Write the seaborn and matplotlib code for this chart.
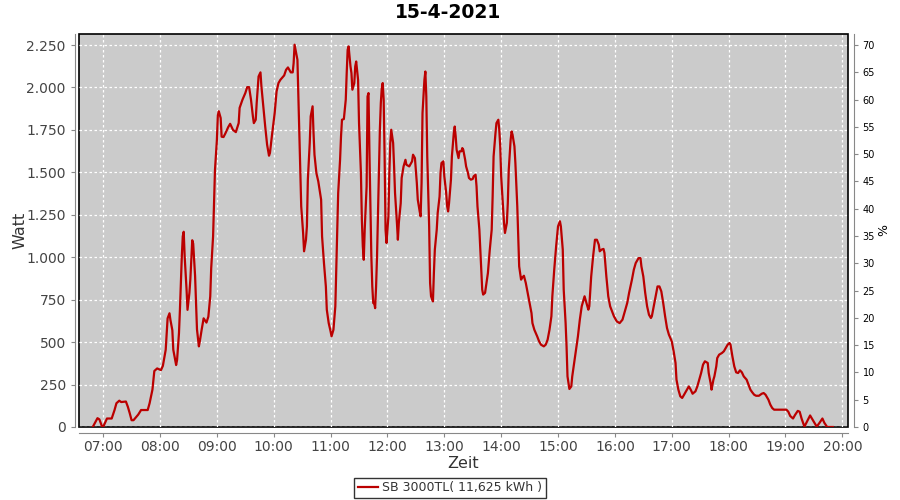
import pandas as pd
import matplotlib
matplotlib.use('Agg')
import matplotlib.pyplot as plt
import matplotlib.dates as mdates
from matplotlib.ticker import FuncFormatter, MultipleLocator
import seaborn as sns

zeiten = [
    "06:49", "06:54", "06:56", "06:59", "07:00", "07:04", "07:09", "07:12", "07:14", "07:17",
    "07:19", "07:24", "07:26", "07:28", "07:30", "07:32", "07:37", "07:40", "07:47", "07:49",
    "07:52", "07:54", "07:57", "08:01", "08:03", "08:06", "08:08", "08:10", "08:11", "08:13",
    "08:14", "08:16", "08:17", "08:18", "08:20", "08:21", "08:22", "08:23", "08:24", "08:25",
    "08:26", "08:28", "08:29", "08:31", "08:32", "08:34", "08:35", "08:37", "08:38", "08:39",
    "08:41", "08:42", "08:44", "08:46", "08:49", "08:51", "08:53", "08:54", "08:56", "08:57",
    "08:58", "09:00", "09:01", "09:02", "09:04", "09:05", "09:07", "09:09", "09:12", "09:14",
    "09:17", "09:20", "09:23", "09:24", "09:27", "09:30", "09:32", "09:34", "09:36", "09:38",
    "09:39", "09:41", "09:42", "09:44", "09:46", "09:47", "09:49", "09:51", "09:53", "09:55",
    "09:56", "09:58", "10:01", "10:03", "10:05", "10:07", "10:11", "10:13", "10:15", "10:18",
    "10:20", "10:21", "10:22", "10:23", "10:25", "10:26", "10:27", "10:28", "10:29", "10:31",
    "10:32", "10:34", "10:35", "10:36", "10:38", "10:39", "10:41", "10:42", "10:43", "10:45",
    "10:47", "10:50", "10:51", "10:53", "10:55", "10:56", "10:58", "11:00", "11:01", "11:03",
    "11:05", "11:06", "11:07", "11:08", "11:10", "11:11", "11:12", "11:14", "11:16", "11:17",
    "11:18", "11:19", "11:21", "11:22", "11:23", "11:25", "11:26", "11:27", "11:29", "11:30",
    "11:32", "11:33", "11:34", "11:35", "11:36", "11:38", "11:39", "11:40", "11:41", "11:42",
    "11:43", "11:44", "11:45", "11:46", "11:47", "11:48", "11:49", "11:51", "11:52", "11:53",
    "11:54", "11:55", "11:56", "11:57", "11:58", "11:59", "12:01", "12:02", "12:03", "12:04",
    "12:06", "12:07", "12:08", "12:10", "12:11", "12:12", "12:14", "12:15", "12:17", "12:19",
    "12:20", "12:23", "12:26", "12:27", "12:29", "12:31", "12:32", "12:34", "12:35", "12:36",
    "12:37", "12:39", "12:40", "12:41", "12:42", "12:44", "12:45", "12:46", "12:48", "12:49",
    "12:50", "12:52", "12:53", "12:55", "12:56", "12:57", "12:59", "13:00", "13:02", "13:03",
    "13:04", "13:05", "13:07", "13:08", "13:10", "13:11", "13:12", "13:13", "13:15", "13:16",
    "13:18", "13:19", "13:20", "13:22", "13:23", "13:25", "13:26", "13:28", "13:30", "13:31",
    "13:33", "13:34", "13:35", "13:37", "13:38", "13:39", "13:40", "13:41", "13:43", "13:44",
    "13:46", "13:48", "13:50", "13:51", "13:52", "13:54", "13:55", "13:57", "13:58", "13:59",
    "14:00", "14:02", "14:03", "14:04", "14:06", "14:07", "14:08", "14:10", "14:11", "14:12",
    "14:14", "14:15", "14:17", "14:18", "14:19", "14:21", "14:22", "14:24", "14:26", "14:28",
    "14:30", "14:32", "14:33", "14:35", "14:38", "14:40", "14:42", "14:45", "14:47", "14:49",
    "14:51", "14:53", "14:54", "14:56", "14:58", "15:00", "15:02", "15:03", "15:05", "15:06",
    "15:08", "15:09", "15:10", "15:12", "15:14", "15:15", "15:17", "15:19", "15:21", "15:23",
    "15:25", "15:27", "15:28", "15:30", "15:32", "15:33", "15:35", "15:37", "15:39", "15:41",
    "15:43", "15:44", "15:46", "15:48", "15:49", "15:51", "15:53", "15:55", "15:57", "15:59",
    "16:02", "16:05", "16:08", "16:10", "16:13", "16:15", "16:18", "16:20", "16:22", "16:25",
    "16:27", "16:28", "16:30", "16:32", "16:34", "16:36", "16:38", "16:39", "16:41", "16:43",
    "16:45", "16:47", "16:49", "16:51", "16:53", "16:55", "16:57", "17:00", "17:02", "17:04",
    "17:05", "17:07", "17:09", "17:11", "17:13", "17:16", "17:18", "17:20", "17:22", "17:25",
    "17:27", "17:29", "17:31", "17:33", "17:35", "17:38", "17:39", "17:41", "17:42", "17:44",
    "17:45", "17:47", "17:48", "17:50", "17:53", "17:55", "17:57", "17:59", "18:01", "18:02",
    "18:04", "18:06", "18:08", "18:10", "18:12", "18:14", "18:16", "18:19", "18:21", "18:23",
    "18:25", "18:27", "18:29", "18:32", "18:35", "18:37", "18:39", "18:42", "18:44", "18:46",
    "18:48", "18:55", "19:01", "19:03", "19:05", "19:08", "19:10", "19:13", "19:15", "19:17",
    "19:20", "19:23", "19:26", "19:29", "19:33", "19:36", "19:39", "19:41", "19:44", "19:50",
]
watt = [
    0, 52, 45, 0, 0, 50, 50, 100, 140, 155,
    147, 150, 120, 82, 40, 40, 73, 100, 100, 140,
    220, 330, 345, 335, 360, 455, 640, 670, 630, 570,
    455, 395, 365, 395, 553, 690, 850, 1005, 1123, 1150,
    1005, 810, 690, 790, 870, 1100, 1080, 890, 730, 575,
    475, 505, 575, 640, 615, 650, 770, 935, 1123, 1320,
    1515, 1690, 1835, 1860, 1820, 1710, 1708, 1730, 1767, 1786,
    1750, 1737, 1790, 1880, 1928, 1967, 2002, 2002, 1928, 1830,
    1790, 1810, 1908, 2065, 2089, 2006, 1888, 1770, 1663, 1598,
    1614, 1712, 1850, 1977, 2026, 2045, 2071, 2104, 2118, 2089,
    2089, 2144, 2252, 2223, 2163, 1947, 1731, 1515, 1300, 1143,
    1035, 1103, 1182, 1457, 1673, 1830, 1889, 1731, 1604, 1496,
    1447, 1339, 1123, 966, 828, 691, 612, 563, 534, 573,
    711, 927, 1162, 1378, 1574, 1712, 1810, 1814, 1928, 2085,
    2222, 2242, 2124, 2085, 1987, 2026, 2124, 2153, 2045, 1790,
    1496, 1221, 1064, 985, 1162, 1417, 1947, 1967, 1614, 1319,
    1005, 828, 730, 730, 700, 828, 1005, 1496, 1751, 1908,
    1996, 2026, 1928, 1594, 1162, 1084, 1241, 1496, 1673, 1751,
    1673, 1535, 1378, 1202, 1103, 1202, 1319, 1467, 1535, 1574,
    1545, 1535, 1565, 1604, 1584, 1437, 1339, 1270, 1241, 1437,
    1849, 2045, 2094, 1947, 1594, 1182, 848, 770, 740, 907,
    1045, 1162, 1260, 1358, 1496, 1555, 1565, 1477, 1378, 1300,
    1270, 1319, 1457, 1594, 1731, 1770, 1712, 1633, 1584, 1624,
    1624, 1643, 1633, 1574, 1535, 1496, 1467, 1457, 1461, 1477,
    1486, 1418, 1300, 1162, 1045, 927, 809, 780, 790, 828,
    907, 1045, 1162, 1358, 1594, 1731, 1790, 1810, 1751, 1653,
    1477, 1300, 1202, 1143, 1202, 1319, 1515, 1692, 1741, 1722,
    1653, 1555, 1300, 1123, 946, 868, 878, 891, 848, 790,
    730, 671, 612, 573, 534, 505, 485, 475, 485, 514,
    573, 652, 770, 927, 1064, 1182, 1212, 1182, 1045, 809,
    612, 475, 298, 224, 239, 298, 377, 455, 534, 632,
    711, 750, 770, 730, 691, 711, 887, 1005, 1103, 1103,
    1074, 1035, 1045, 1049, 1025, 887, 770, 711, 681, 652,
    622, 612, 632, 671, 730, 790, 868, 927, 966, 995,
    995, 946, 887, 790, 711, 661, 642, 652, 711, 770,
    828, 828, 799, 730, 652, 583, 544, 505, 446, 377,
    279, 220, 181, 171, 190, 220, 239, 220, 196, 210,
    239, 279, 318, 367, 387, 377, 318, 259, 220, 279,
    298, 357, 406, 426, 436, 446, 465, 485, 495, 485,
    416, 357, 322, 318, 334, 322, 298, 279, 249, 220,
    204, 190, 184, 184, 196, 200, 190, 161, 132, 112,
    102, 102, 102, 90, 65, 50, 70, 95, 90, 50,
    2, 35, 68, 40, 2, 25, 50, 25, 0, 0,
]

titel = "15-4-2021"
legende = "SB 3000TL( 11,625 kWh )"

df = pd.DataFrame({
    'zeit': pd.to_datetime("2021-04-15 " + pd.Series(zeiten)),
    'watt': watt,
})

fig = plt.figure(figsize=(9, 5), dpi=100)
ax = fig.add_axes([79 / 900, 73 / 500, 769 / 900, 393 / 500])

sns.lineplot(data=df, x='zeit', y='watt', ax=ax, estimator=None, sort=False,
             color='#bb0000', linewidth=1.6, label=legende, legend=False)

# Achsen
ax.set_facecolor('#cbcbcb')
ax.patch.set_edgecolor('black')
ax.patch.set_linewidth(1.2)
ax.set_xlim(pd.Timestamp("2021-04-15 06:34:30"), pd.Timestamp("2021-04-15 20:06:00"))
ymax = 2315
ax.set_ylim(0, ymax)
ax.yaxis.set_major_locator(MultipleLocator(250))
ax.yaxis.set_major_formatter(FuncFormatter(lambda v, p: f'{v:,.0f}'.replace(',', '.')))
ax.xaxis.set_major_locator(mdates.HourLocator())
ax.xaxis.set_major_formatter(mdates.DateFormatter('%H:%M'))
ax.grid(True, color='white', linestyle=(0, (2, 2)), linewidth=0.9)

for s in ['top', 'right']:
    ax.spines[s].set_visible(False)
ax.spines['left'].set_position(('outward', 3))
ax.spines['bottom'].set_position(('outward', 4))
for s in ['left', 'bottom']:
    ax.spines[s].set_color('#888888')
ax.tick_params(axis='both', colors='#888888', labelcolor='#444444', labelsize=10, length=3)
ax.tick_params(axis='x', pad=2.5)

ax.set_xlabel('Zeit', fontsize=11.5, color='#333333')
ax.xaxis.set_label_coords(0.5, -0.073)
ax.set_ylabel('Watt', fontsize=11.5, color='#333333')
ax.yaxis.set_label_coords(-0.0676, 0.5)

# rechte Achse in Prozent
ax2 = ax.twinx()
ax2.set_ylim(0, ymax * 70 / 2250)
ax2.yaxis.set_major_locator(MultipleLocator(5))
for s in ['top', 'left', 'bottom']:
    ax2.spines[s].set_visible(False)
ax2.spines['right'].set_position(('outward', 4))
ax2.spines['right'].set_color('#888888')
ax2.tick_params(axis='y', colors='#888888', labelcolor='black', labelsize=7, length=3)
ax2.set_ylabel('%', fontsize=9, rotation=270, labelpad=8)

fig.text(0.498, 1 - 12.5 / 500, titel, ha='center', va='center', fontsize=13.5, fontweight='bold')

handles, labels = ax.get_legend_handles_labels()
leg = fig.legend(handles, labels, loc='center', bbox_to_anchor=(450 / 900, 12 / 500),
                 frameon=True, fancybox=False, fontsize=9, handlelength=1.6,
                 borderpad=0.3, handletextpad=0.4, borderaxespad=0)
leg.get_frame().set_edgecolor('black')
leg.get_frame().set_linewidth(1)
for t in leg.get_texts():
    t.set_color('#333333')

fig.savefig('out.png', dpi=100)
